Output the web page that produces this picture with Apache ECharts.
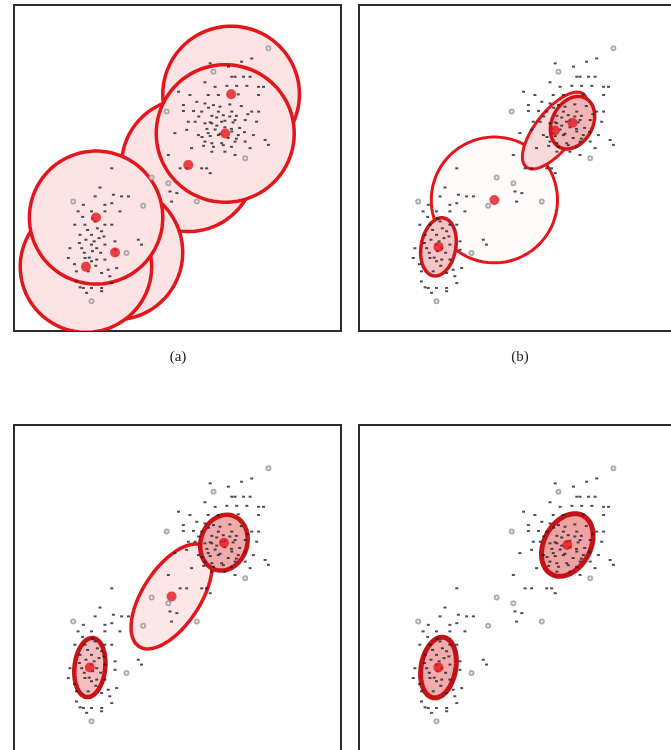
<!DOCTYPE html>
<html><head><meta charset="utf-8">
<script src="https://cdn.jsdelivr.net/npm/echarts@6/dist/echarts.min.js"></script>
<style>html,body{margin:0;padding:0;background:#fff;overflow:hidden}#c{width:700px;height:780px}</style>
</head><body><div id="c"></div>
<script>
// Observed data (shared by all four panels), in panel units 0..100
const darkPoints = [
[72.7,83.6],[69.6,82.6],[60.0,82.1],[65.6,81.1],[66.6,78.0],[67.6,78.0],[70.2,78.0],[72.2,78.0],[58.4,76.3],[61.5,74.9],
[65.1,75.2],[68.1,75.2],[71.2,75.2],[74.8,74.9],[76.3,74.9],[50.3,73.4],[53.8,72.4],[59.4,72.4],[62.5,72.4],[68.6,72.6],
[74.8,72.4],[51.8,69.3],[55.9,70.3],[58.4,69.8],[61.0,69.3],[51.8,67.5],[54.9,67.5],[57.4,67.3],[62.5,67.3],[66.6,67.3],
[72.7,67.3],[74.8,67.3],[53.3,64.2],[55.4,64.2],[58.4,63.7],[60.5,63.7],[63.5,64.2],[67.6,64.7],[70.7,64.7],[74.2,64.2],
[49.2,60.7],[52.8,61.7],[56.4,60.1],[59.4,60.7],[62.5,60.1],[66.6,61.2],[68.6,60.1],[73.2,60.1],[76.8,58.6],[77.8,57.1],
[58.4,58.1],[60.5,57.6],[63.5,57.6],[67.6,58.1],[70.7,58.1],[72.2,56.1],[54.3,56.1],[60.5,55.0],[64.5,55.0],[67.6,54.0],
[47.2,54.0],[50.8,49.9],[52.8,49.9],[57.4,49.9],[58.9,49.9],[60.0,48.4],[47.7,42.8],[49.8,42.3],[48.2,39.7],[29.9,49.9],
[60.5,66.0],[62.0,65.5],[64.0,66.2],[66.0,65.8],[68.0,66.0],[59.0,62.0],[61.5,61.8],[64.5,62.5],[66.5,62.0],[69.0,62.3],
[57.5,59.5],[60.0,59.8],[63.0,60.5],[65.5,59.2],[68.0,59.0],[70.5,61.0],[58.0,56.8],[61.0,56.5],[64.0,57.0],[66.5,56.5],
[56.5,65.8],[59.5,68.5],[63.0,68.8],[66.0,69.5],[69.5,69.0],[71.5,66.5],[62.0,63.0],[67.0,64.0],[64.5,64.5],[60.0,64.0],
[26.3,44.0],[24.8,41.3],[30.4,41.8],[32.9,41.3],[35.0,41.3],[21.2,38.7],[27.8,38.7],[29.9,39.2],[32.4,36.7],[19.6,36.7],
[23.7,36.7],[27.8,36.7],[18.6,32.6],[21.7,32.6],[24.8,33.6],[27.8,32.6],[29.9,32.6],[20.2,29.5],[23.7,29.5],[26.8,30.6],
[30.9,27.5],[38.0,28.0],[39.0,26.5],[17.1,25.4],[20.7,25.4],[23.7,26.5],[25.3,25.4],[27.8,26.5],[30.9,24.9],[21.7,22.4],
[23.7,21.4],[25.3,21.9],[27.8,21.9],[31.4,19.3],[28.8,18.8],[16.6,22.4],[19.1,18.3],[22.7,18.3],[26.8,17.8],[29.3,16.8],
[19.1,15.2],[20.2,13.4],[21.2,13.2],[23.7,13.2],[26.8,13.2],[29.9,14.7],[22.2,11.7],[26.8,12.2],
[22.0,28.0],[24.5,27.5],[26.0,28.5],[21.5,24.0],[24.0,24.5],[26.5,24.0],[22.5,31.0],[25.5,31.5],[20.0,27.0],[23.0,22.5],
[25.0,20.0],[18.5,20.5],[27.5,29.0],[24.0,34.5],[21.0,35.0]
];
const greyPoints = [
[77.8,86.7],[61.0,79.5],[46.7,67.3],[42.1,47.1],[47.2,45.3],[55.9,39.7],[39.5,38.4],[23.7,9.1],[70.7,53.0],[18.1,39.7],[34.4,23.9]
];
// Fitted components: [centreX, centreY, semiAxisA, semiAxisB, angleDeg]
const ellipsesA = [
[66.4,72.6,20.9,20.9,0],[53.3,50.9,20.4,20.4,0],[64.6,60.6,21.1,21.1,0],
[30.9,24.1,20.7,20.7,0],[22.0,19.7,20.1,20.1,0],[25.1,34.8,20.4,20.4,0]
];
const ellipsesB = [
[41.4,40.2,19.3,19.3,0],[24.3,25.8,9.0,5.3,80],[59.9,61.5,14.2,6.0,52],[65.3,63.9,8.5,6.2,62]
];
const ellipsesC = [
[48.2,47.4,18.3,8.8,57],[64.2,63.9,8.7,7.1,72],[23.2,25.6,9.1,4.7,84]
];
const ellipsesD = [
[63.7,63.2,10.2,7.1,62],[24.3,25.6,9.4,5.3,80]
];
const panelLabels = ['(a)','(b)'];

const RED = '#e3161c';
const stylesA = ellipsesA.map(() => ({fill:'#fde3e3', stroke:RED, lw:3.5}));
const stylesB = [
  {fill:'rgba(255,248,248,0.6)', stroke:RED, lw:3},
  {fill:'#f6c4c4', stroke:'#d01418', lw:3.5},
  {fill:'#f9dada', stroke:RED, lw:3},
  {fill:'#f2b4b4', stroke:'#cf1418', lw:3.5}
];
const stylesC = [
  {fill:'#fde6e6', stroke:RED, lw:3.5},
  {fill:'#f1abab', stroke:'#c81216', lw:4.5},
  {fill:'#f5bdbd', stroke:'#c81216', lw:4.5}
];
const stylesD = [
  {fill:'#f0a3a3', stroke:'#c41216', lw:5},
  {fill:'#f2acac', stroke:'#c41216', lw:5}
];

function makeRender(styles){
  return function(params, api){
    const cx = api.value(0), cy = api.value(1), a = api.value(2), b = api.value(3);
    const ang = api.value(4) * Math.PI / 180;
    const pts = [];
    for (let i = 0; i < 90; i++) {
      const t = i / 90 * 2 * Math.PI;
      const x = cx + a*Math.cos(t)*Math.cos(ang) - b*Math.sin(t)*Math.sin(ang);
      const y = cy + a*Math.cos(t)*Math.sin(ang) + b*Math.sin(t)*Math.cos(ang);
      pts.push(api.coord([x, y]));
    }
    const s = styles[params.dataIndex];
    return {type:'polygon', shape:{points:pts}, style:{fill:s.fill, stroke:s.stroke, lineWidth:s.lw}};
  };
}

const grids = [
  {left:14, top:5, width:327, height:326},
  {left:359, top:5, width:327, height:326},
  {left:14, top:425, width:327, height:326},
  {left:359, top:425, width:327, height:326}
].map(g => Object.assign({show:true, borderColor:'#2b2b2b', borderWidth:2, backgroundColor:'#fff', containLabel:false}, g));

const ells = [ellipsesA, ellipsesB, ellipsesC, ellipsesD];
const stys = [stylesA, stylesB, stylesC, stylesD];
const xAxis = [], yAxis = [], series = [];
for (let i = 0; i < 4; i++) {
  xAxis.push({type:'value', gridIndex:i, min:0, max:100, show:false});
  yAxis.push({type:'value', gridIndex:i, min:0, max:100, show:false});
  series.push({type:'custom', xAxisIndex:i, yAxisIndex:i, renderItem:makeRender(stys[i]), data:ells[i], encode:{x:0,y:1}, clip:true, z:1, silent:true});
  series.push({type:'scatter', xAxisIndex:i, yAxisIndex:i, data:greyPoints, symbol:'emptyCircle', symbolSize:4, itemStyle:{color:'#9a9a9a', borderWidth:1}, z:2, silent:true});
  series.push({type:'scatter', xAxisIndex:i, yAxisIndex:i, data:darkPoints, symbol:'rect', symbolSize:[3,2], itemStyle:{color:'#1c2230'}, z:3, silent:true});
  series.push({type:'scatter', xAxisIndex:i, yAxisIndex:i, data:ells[i].map(e => [e[0], e[1]]), symbolSize:10, itemStyle:{color:RED}, z:4, silent:true});
}

const chart = echarts.init(document.getElementById('c'), null, {renderer:'canvas'});
chart.setOption({
  animation:false,
  grid:grids, xAxis:xAxis, yAxis:yAxis, series:series,
  graphic:[
    {type:'text', x:178, y:357, style:{text:panelLabels[0], font:'15px "Liberation Serif", serif', fill:'#222', textAlign:'center', textVerticalAlign:'middle'}},
    {type:'text', x:520, y:357, style:{text:panelLabels[1], font:'15px "Liberation Serif", serif', fill:'#222', textAlign:'center', textVerticalAlign:'middle'}}
  ]
});
</script></body></html>
